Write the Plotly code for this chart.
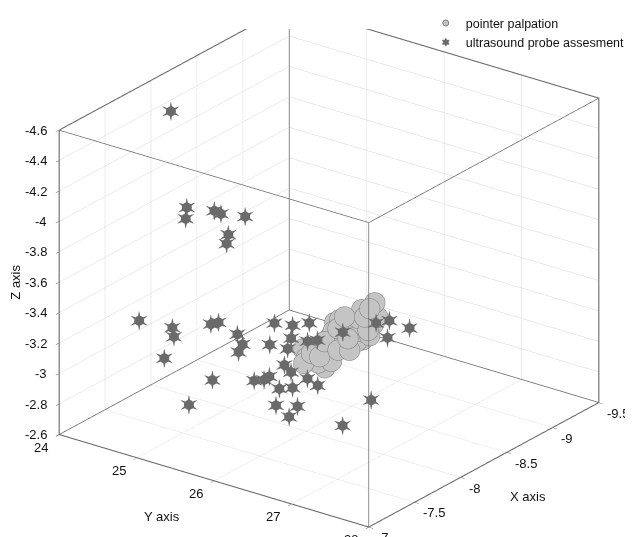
import plotly.graph_objects as go

# ---- data ----
pointer_x = [-8.3, -8.4, -8.2, -8.3, -8.4, -8.2, -8.3, -8.4, -8.2, -8.3, -8.4, -8.2, -8.3,
             -8.4, -8.2, -8.3, -8.4, -8.2, -8.3, -8.4, -8.2, -8.3, -8.4, -8.2, -8.3, -8.4,
             -8.2, -8.3, -8.4, -8.2, -8.3, -8.4, -8.2, -8.3, -8.4, -8.2, -8.3, -8.4, -8.2]
pointer_y = [26.530, 26.369, 26.519, 26.314, 26.110, 26.260, 26.077, 25.894, 26.173, 25.990,
             26.390, 26.561, 26.358, 26.153, 26.302, 26.120, 25.829, 26.001, 25.840, 25.657,
             25.829, 25.646, 25.484, 25.936, 25.905, 25.872, 26.173, 25.969, 26.002, 26.324,
             26.293, 26.261, 26.583, 25.796, 25.765, 26.583, 26.362, 26.451, 25.729]
pointer_z = [-3.427, -3.302, -3.364, -3.292, -3.221, -3.326, -3.247, -3.167, -3.236, -3.157,
             -3.229, -3.282, -3.211, -3.128, -3.189, -3.143, -3.059, -3.124, -3.036, -2.968,
             -3.021, -2.931, -2.932, -3.015, -2.991, -2.966, -3.094, -2.956, -3.029, -3.116,
             -3.135, -3.111, -3.252, -2.920, -2.851, -3.428, -3.356, -3.286, -2.939]

probe_x = [-7.85, -7.7, -7.55, -8.0, -7.85, -7.7, -7.55, -8.0, -7.85, -7.7, -7.55, -8.0,
           -7.85, -7.7, -7.55, -8.0, -7.85, -7.7, -7.55, -8.0, -7.85, -7.7, -7.55, -8.0,
           -7.85, -7.7, -7.55, -8.0, -7.85, -7.7, -7.55, -8.0, -7.85, -7.7, -7.55, -8.0,
           -7.85, -7.7, -7.55, -8.0, -7.85, -7.7, -7.55, -8.0, -7.85, -7.7]
probe_y = [24.430, 24.814, 24.978, 24.813, 25.077, 25.568, 25.529, 24.972, 24.019, 24.627,
           24.826, 24.166, 24.947, 25.223, 25.646, 25.179, 25.305, 25.145, 25.020, 25.590,
           26.004, 26.397, 26.065, 25.806, 25.939, 26.375, 26.681, 25.719, 25.983, 25.685,
           25.991, 25.525, 25.832, 26.181, 26.552, 26.150, 25.789, 26.245, 26.315, 26.474,
           27.083, 27.433, 27.587, 27.337, 27.019, 26.828]
probe_z = [-4.512, -3.987, -3.987, -3.867, -3.936, -4.042, -3.966, -3.675, -3.073, -3.168,
           -3.188, -2.799, -3.191, -3.294, -3.329, -3.045, -3.062, -2.903, -2.770, -3.247,
           -3.344, -3.469, -3.324, -3.180, -3.180, -3.345, -3.447, -2.991, -3.033, -2.981,
           -3.082, -2.886, -2.901, -3.009, -3.175, -2.922, -2.785, -2.897, -2.888, -3.321,
           -3.523, -3.641, -3.601, -3.479, -3.007, -2.859]

series_names = ["pointer palpation", "ultrasound probe assesment"]
axis_titles = ["X axis", "Y axis", "Z axis"]

x_ticks = [-9.5, -9, -8.5, -8, -7.5, -7]
x_labels = ["-9.5", "-9", "-8.5", "-8", "-7.5", "-7"]
y_ticks = [24, 25, 26, 27, 28]
y_labels = ["24", "25", "26", "27", "28"]
z_ticks = [-4.6, -4.4, -4.2, -4.0, -3.8, -3.6, -3.4, -3.2, -3.0, -2.8, -2.6]
z_labels = ["-4.6", "-4.4", "-4.2", "-4", "-3.8", "-3.6", "-3.4", "-3.2", "-3", "-2.8", "-2.6"]

FONT = "Arial, 'Liberation Sans', sans-serif"
TXT = "#111111"
STAR_COLOR = "#6a6a6a"
SCALE = 1.497

x_lo, x_hi = min(x_ticks), max(x_ticks)
y_lo, y_hi = min(y_ticks), max(y_ticks)
z_lo, z_hi = min(z_ticks), max(z_ticks)
# tiny padding so the box outline lying on the range limits is not clipped
ex, ey, ez = [(b - a) * 0.001 for a, b in ((x_lo, x_hi), (y_lo, y_hi), (z_lo, z_hi))]

fig = go.Figure()

# box outline built from the axis ranges
bx, by, bz = [], [], []
corners_xy = [(x_lo, y_lo), (x_hi, y_lo), (x_hi, y_hi), (x_lo, y_hi)]
for zz in (z_lo, z_hi):
    for cx, cy in corners_xy + [corners_xy[0]]:
        bx.append(cx); by.append(cy); bz.append(zz)
    bx.append(None); by.append(None); bz.append(None)
for cx, cy in corners_xy:
    bx += [cx, cx, None]; by += [cy, cy, None]; bz += [z_lo, z_hi, None]
fig.add_trace(go.Scatter3d(x=bx, y=by, z=bz, mode="lines",
                           line=dict(color="#6b6b6b", width=1.5),
                           showlegend=False, hoverinfo="skip"))

fig.add_trace(go.Scatter3d(
    x=pointer_x, y=pointer_y, z=pointer_z, mode="markers",
    marker=dict(size=12, color="#c4c4c4", line=dict(color="#7a7a7a", width=1), opacity=1),
    showlegend=False, hoverinfo="skip"))

# hexagram-like star glyphs: six-pointed star with a filled centre
for glyph, size in (("\u25CF", 13), ("\u2736", 27)):
    fig.add_trace(go.Scatter3d(
        x=probe_x, y=probe_y, z=probe_z, mode="text",
        text=[glyph] * len(probe_x),
        textfont=dict(size=size, color=STAR_COLOR, family="DejaVu Sans"),
        textposition="middle center",
        showlegend=False, hoverinfo="skip"))

# legend entries
fig.add_trace(go.Scatter(x=[None], y=[None], mode="markers", name=series_names[0],
                         marker=dict(symbol="circle", size=6, color="#c4c4c4",
                                     line=dict(color="#7a7a7a", width=1))))
fig.add_trace(go.Scatter(x=[None], y=[None], mode="markers", name=series_names[1],
                         marker=dict(symbol="hexagram", size=6, color=STAR_COLOR,
                                     line=dict(color="#505050", width=0.5))))

axis_common = dict(
    showbackground=False, gridcolor="#d8d8d8", gridwidth=1,
    showline=True, linecolor="#6b6b6b", linewidth=1, mirror=True,
    zeroline=False, showspikes=False, ticks="outside", tickcolor="#555555", ticklen=5,
    showticklabels=False, title=dict(text=""),
)

lab_font = dict(family=FONT, size=13, color=TXT)
annotations = []
for v, t in zip(z_ticks, z_labels):
    annotations.append(dict(x=x_hi, y=y_lo, z=v, text=t, showarrow=False, xanchor="right",
                            xshift=-10, yshift=0, font=lab_font))
for v, t in zip(y_ticks, y_labels):
    annotations.append(dict(x=x_hi, y=v, z=z_hi, text=t, showarrow=False,
                            xshift=-18, yshift=-13, font=lab_font))
for v, t in zip(x_ticks, x_labels):
    annotations.append(dict(x=v, y=y_hi, z=z_hi, text=t, showarrow=False, xanchor="left",
                            xshift=6, yshift=-11, font=lab_font))
annotations += [
    dict(x=x_hi, y=(y_lo + y_hi) / 2, z=z_hi, text=axis_titles[1], showarrow=False,
         xshift=-52, yshift=-36, font=lab_font),
    dict(x=(x_lo + x_hi) / 2, y=y_hi, z=z_hi, text=axis_titles[0], showarrow=False,
         xshift=44, yshift=-32, font=lab_font),
    dict(x=x_hi, y=y_lo, z=(z_lo + z_hi) / 2, text=axis_titles[2], showarrow=False,
         xshift=-44, yshift=0, textangle=-90, font=lab_font),
]

fig.update_layout(
    width=633, height=537,
    margin=dict(l=0, r=0, t=0, b=0),
    paper_bgcolor="white", plot_bgcolor="white",
    font=dict(family=FONT, size=13, color=TXT),
    xaxis=dict(visible=False), yaxis=dict(visible=False),
    legend=dict(x=0.66, y=1.04, xanchor="left", yanchor="top",
                bgcolor="rgba(0,0,0,0)", font=dict(family=FONT, size=12.5, color=TXT),
                itemwidth=30, tracegroupgap=0),
    scene=dict(
        domain=dict(x=[0.0142, 1.0], y=[0.0, 1.0]),
        xaxis=dict(range=[x_lo - ex, x_hi + ex], tickvals=x_ticks, **axis_common),
        yaxis=dict(range=[y_lo - ey, y_hi + ey], tickvals=y_ticks, **axis_common),
        zaxis=dict(range=[z_hi + ez, z_lo - ez], tickvals=z_ticks, **axis_common),
        aspectmode="manual", aspectratio=dict(x=SCALE, y=SCALE, z=0.862 * SCALE),
        camera=dict(eye=dict(x=3.000, y=2.229, z=1.554), up=dict(x=0, y=0, z=1),
                    center=dict(x=0, y=0, z=-0.0875), projection=dict(type="orthographic")),
        annotations=annotations,
    ),
)

fig.write_html("out.html", config={"displayModeBar": False})
